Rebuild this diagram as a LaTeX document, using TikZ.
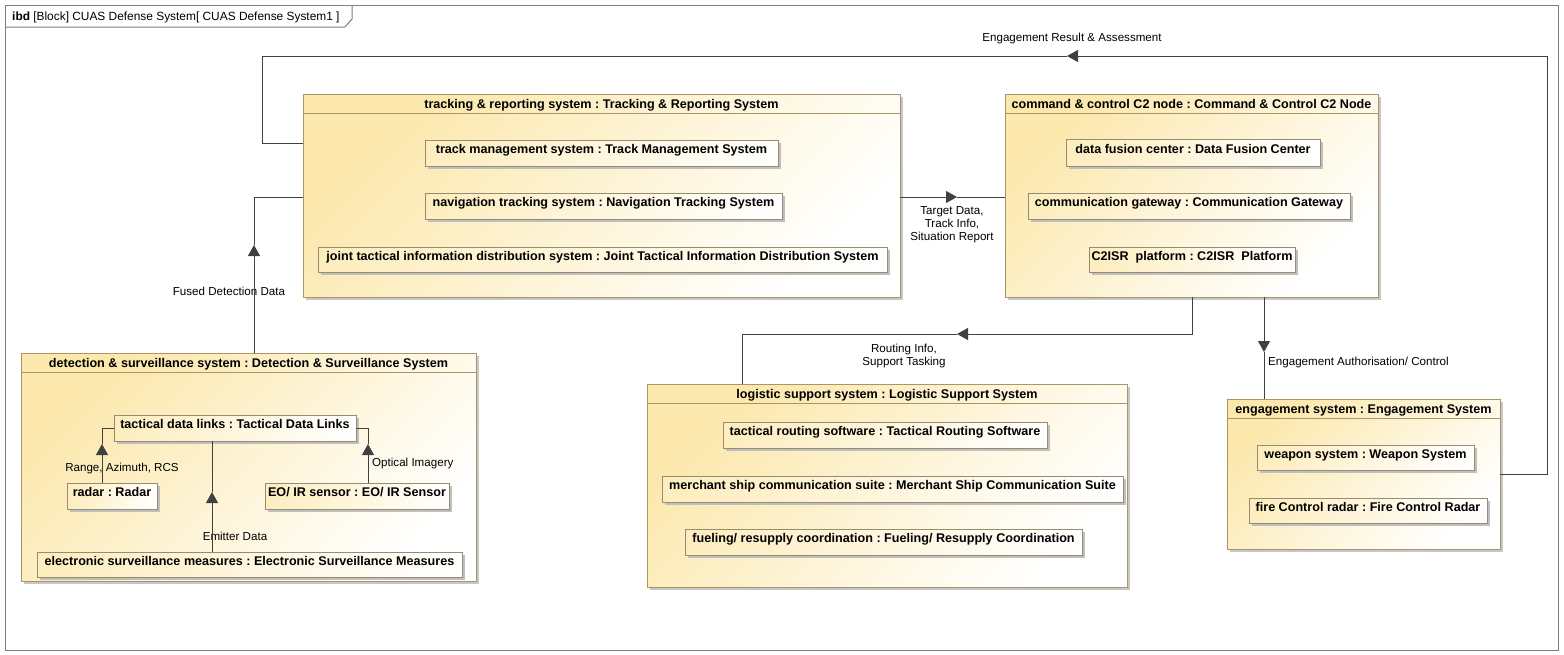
\documentclass[tikz,border=0pt]{standalone}
\usepackage{fontspec}
\setmainfont{Liberation Sans}
\usetikzlibrary{arrows.meta,shadows}

\definecolor{framec}{RGB}{128,128,128}
\definecolor{connc}{RGB}{64,64,64}
\definecolor{bborder}{RGB}{168,150,104}
\definecolor{pborder}{RGB}{150,140,112}
\definecolor{byellow}{RGB}{252,232,172}
\definecolor{pyellow}{RGB}{253,237,190}

\newcommand\blkfont{\fontsize{12.6}{14}\selectfont\bfseries}
\newcommand\lblfont{\fontsize{11.6}{12.6}\selectfont}

\begin{document}
\frenchspacing
\begin{tikzpicture}[x=1pt,y=-1pt,
  conn/.style={draw=connc, line width=1pt},
  flow/.style={conn, -{Triangle[length=11pt,width=12pt]}},
  block/.style={draw=bborder, line width=1pt, top color=byellow, bottom color=white,
    shading angle=45, inner sep=0pt, outer sep=0pt, anchor=north west,
    drop shadow={shadow xshift=2.5pt, shadow yshift=-2.5pt, fill=black!22, opacity=1}},
  bhead/.style={draw=bborder, line width=1pt, inner sep=0pt, outer sep=0pt,
    anchor=north west, minimum height=19pt, text height=9pt, text depth=0pt, font=\blkfont},
  part/.style={draw=pborder, line width=1pt, left color=pyellow, right color=white,
    inner sep=0pt, outer sep=0pt, anchor=north west, minimum height=26pt,
    text height=9pt, text depth=8pt, font=\blkfont,
    drop shadow={shadow xshift=2.5pt, shadow yshift=-2.5pt, fill=black!25, opacity=1}},
  % node centre sits on the cap centre of the last line
  lab/.style={font=\lblfont, inner sep=0pt, align=center, text height=8.3pt, text depth=0pt},
]
\useasboundingbox (0,0) rectangle (1564,654);
\fill[white] (0,0) rectangle (1564,654);

% diagram frame and its name tab
\node[draw=framec, line width=1pt, inner sep=0pt, outer sep=0pt, anchor=north west,
  minimum width=1553pt, minimum height=645pt] (frame) at (5,5) {};
\draw[framec, line width=1pt] (5,27) -- (345,27) -- (352,19) -- (352,5);
\node[font=\fontsize{11.9}{13}\selectfont, inner sep=0pt, anchor=west, text height=8.3pt, text depth=0pt]
  (frametitle) at (12,16) {\textbf{ibd} [Block] CUAS Defense System[ CUAS Defense System1 ]};

% tracking & reporting system
\node[block, minimum width=597pt, minimum height=203pt] (trs) at (303,94) {};
\node[bhead, minimum width=597pt] (trsh) at (303,94)
  {tracking \& reporting system : Tracking \& Reporting System};
\node[part, minimum width=353pt] (tms) at (425,140) {track management system : Track Management System};
\node[part, minimum width=357pt] (nts) at (425,193) {navigation tracking system : Navigation Tracking System};
\node[part, minimum width=569pt, minimum height=25pt] (jtids) at (318,247)
  {joint tactical information distribution system : Joint Tactical Information Distribution System};

% command & control C2 node
\node[block, minimum width=373pt, minimum height=203pt] (c2) at (1005,94) {};
\node[bhead, minimum width=373pt] (c2h) at (1005,94)
  {command \& control C2 node : Command \& Control C2 Node};
\node[part, minimum width=254pt, minimum height=27pt] (dfc) at (1066,139) {data fusion center : Data Fusion Center};
\node[part, minimum width=322pt] (cgw) at (1028,193) {communication gateway : Communication Gateway};
\node[part, minimum width=206pt, minimum height=25pt] (c2isr) at (1089,247) {C2ISR\ \ platform : C2ISR\ \ Platform};

% detection & surveillance system
\node[block, minimum width=455pt, minimum height=228pt] (det) at (21,353) {};
\node[bhead, minimum width=455pt] (deth) at (21,353)
  {detection \& surveillance system : Detection \& Surveillance System};
\node[part, minimum width=242pt] (tdl) at (114,415) {tactical data links : Tactical Data Links};
\node[part, minimum width=90pt] (radar) at (67,483) {radar : Radar};
\node[part, minimum width=184pt] (eoir) at (265,483) {EO/ IR sensor : EO/ IR Sensor};
\node[part, minimum width=425pt, minimum height=25pt] (esm) at (37,552)
  {electronic surveillance measures : Electronic Surveillance Measures};

% logistic support system
\node[block, minimum width=480pt, minimum height=203pt] (log) at (647,384) {};
\node[bhead, minimum width=480pt] (logh) at (647,384)
  {logistic support system : Logistic Support System};
\node[part, minimum width=324pt] (trsw) at (723,422) {tactical routing software : Tactical Routing Software};
\node[part, minimum width=461pt] (mscs) at (662,476) {merchant ship communication suite : Merchant Ship Communication Suite};
\node[part, minimum width=397pt] (frc) at (685,529) {fueling/ resupply coordination : Fueling/ Resupply Coordination};

% engagement system
\node[block, minimum width=273pt, minimum height=150pt] (eng) at (1227,399) {};
\node[bhead, minimum width=273pt] (engh) at (1227,399)
  {engagement system : Engagement System};
\node[part, minimum width=217pt, minimum height=25pt] (weap) at (1257,445) {weapon system : Weapon System};
\node[part, minimum width=238pt, minimum height=25pt] (fcr) at (1249,498) {fire Control radar : Fire Control Radar};

% connector labels
\node[lab] (erl) at (1072,37) {Engagement Result \& Assessment};
\node[lab] (tdlab) at (952,236) {Target Data,\\Track Info,\\Situation Report};
\node[lab] (rtl) at (904,361) {Routing Info,\\Support Tasking};
\node[lab, anchor=west] (eal) at (1268,361) {Engagement Authorisation/ Control};
\node[lab] (ful) at (229,291) {Fused Detection Data};
\node[lab] (ral) at (122,467) {Range, Azimuth, RCS};
\node[lab, anchor=west] (eol) at (372,462) {Optical Imagery};
\node[lab] (esl) at (235,536) {Emitter Data};

% bend points and flow marks
\coordinate (erA) at (1547,474);
\coordinate (erB) at (1547,56);
\coordinate (erM) at (1067,56);
\coordinate (erC) at (262,56);
\coordinate (erD) at (262,143);
\coordinate (fuTip) at (254,245);
\coordinate (fuB) at (254,197);
\coordinate (tdTip) at (957,197);
\coordinate (rtA) at (1192,334);
\coordinate (rtTip) at (957,334);
\coordinate (rtB) at (742,334);
\coordinate (eaTip) at (1264,352);
\coordinate (raTip) at (102,444);
\coordinate (eoTip) at (368,444);
\coordinate (esTip) at (212,492);

% engagement result & assessment
\draw[flow] (eng.east) -- (erA) -- (erB) -- (erM);
\draw[conn] (erM) -- (erC) -- (erD) -- (trs.west |- erD);

% fused detection data
\draw[flow] (det.north -| fuB) -- (fuTip);
\draw[conn] (fuTip) -- (fuB) -- (trs.west |- fuB);

% target data to C2
\draw[flow] (trs.east |- tdTip) -- (tdTip);
\draw[conn] (tdTip) -- (c2.west |- tdTip);

% routing info to logistics
\draw[flow] (c2.south -| rtA) -- (rtA) -- (rtTip);
\draw[conn] (rtTip) -- (rtB) -- (log.north -| rtB);

% engagement authorisation
\draw[flow] (c2.south -| eaTip) -- (eaTip);
\draw[conn] (eaTip) -- (eng.north -| eaTip);

% sensor flows inside detection & surveillance
\draw[flow] (radar.north -| raTip) -- (raTip);
\draw[conn] (raTip) |- (tdl.west);
\draw[flow] (eoir.north -| eoTip) -- (eoTip);
\draw[conn] (eoTip) |- (tdl.east);
\draw[flow] (esm.north -| esTip) -- (esTip);
\draw[conn] (esTip) -- (tdl.south -| esTip);
\end{tikzpicture}
\end{document}
